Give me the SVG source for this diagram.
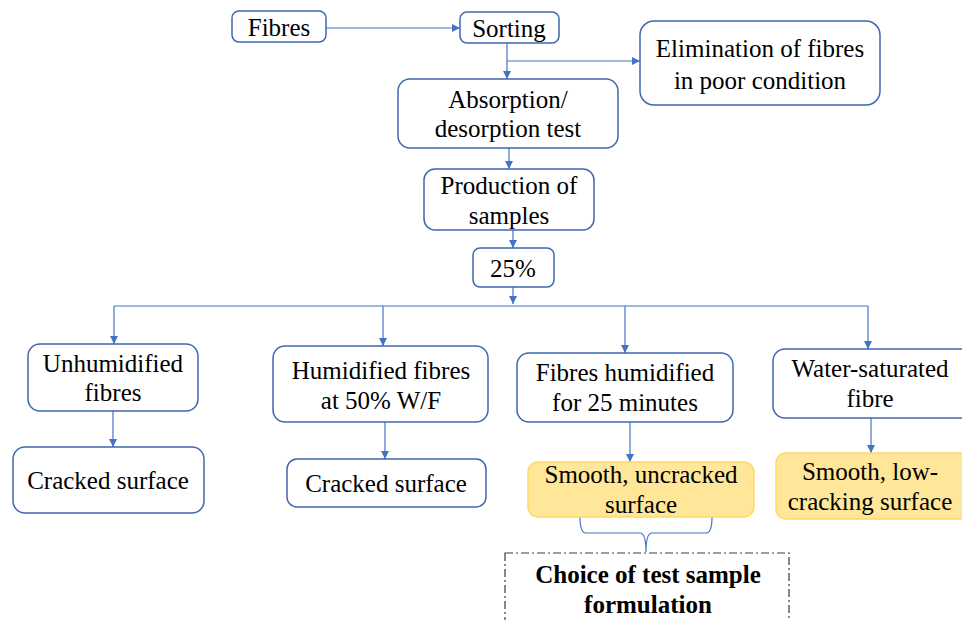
<svg xmlns="http://www.w3.org/2000/svg" width="962" height="620" viewBox="0 0 962 620">
  <style>
    .box { fill: #ffffff; stroke: #3f67b0; stroke-width: 1.5; }
    .hl { fill: #ffe699; stroke: #ffd966; stroke-width: 1.5; }
    text { font-size: 25px; fill: #000000; text-anchor: middle; }
    .bold { font-weight: bold; }
    .wire { fill: none; stroke: #4472c4; stroke-width: 1.2; }
    .dash { fill: none; stroke: #3a3a3a; stroke-width: 1.2; stroke-dasharray: 8 3 2 3; }
  </style>
  <defs>
    <marker id="arr" viewBox="0 0 10 10" refX="10" refY="5" markerWidth="8" markerHeight="8" markerUnits="userSpaceOnUse" orient="auto">
      <path d="M0,0 L10,5 L0,10 z" fill="#4472c4"/>
    </marker>
  </defs>

  <rect width="962" height="620" fill="#ffffff"/>

  <g id="connectors">
    <line class="wire" x1="326" y1="28" x2="460" y2="28" marker-end="url(#arr)"/>
    <line class="wire" x1="507" y1="43" x2="507" y2="79" marker-end="url(#arr)"/>
    <line class="wire" x1="507" y1="61" x2="640" y2="61" marker-end="url(#arr)"/>
    <line class="wire" x1="509" y1="148" x2="509" y2="169" marker-end="url(#arr)"/>
    <line class="wire" x1="513" y1="230" x2="513" y2="248" marker-end="url(#arr)"/>
    <line class="wire" x1="513" y1="287" x2="513" y2="304" marker-end="url(#arr)"/>
    <line class="wire" x1="114" y1="306" x2="868" y2="306"/>
    <line class="wire" x1="114" y1="306" x2="114" y2="344" marker-end="url(#arr)"/>
    <line class="wire" x1="383" y1="306" x2="383" y2="346" marker-end="url(#arr)"/>
    <line class="wire" x1="625" y1="306" x2="625" y2="353" marker-end="url(#arr)"/>
    <line class="wire" x1="868" y1="306" x2="868" y2="349" marker-end="url(#arr)"/>
    <line class="wire" x1="113" y1="411" x2="113" y2="447" marker-end="url(#arr)"/>
    <line class="wire" x1="385" y1="422" x2="385" y2="459" marker-end="url(#arr)"/>
    <line class="wire" x1="630" y1="422" x2="630" y2="462" marker-end="url(#arr)"/>
    <line class="wire" x1="871" y1="418" x2="871" y2="453" marker-end="url(#arr)"/>
    <!-- curly brace under the chosen result -->
    <path class="wire" d="M580,517 Q580,533 586,533 L640,533 Q646,533 646,552 Q646,533 652,533 L706,533 Q712,533 712,517"/>
  </g>

  <g font-family="'Liberation Serif', Tinos, 'Times New Roman', 'DejaVu Serif', serif">
  <g id="fibres">
    <rect class="box" x="232" y="11" width="94" height="31" rx="7"/>
    <text x="279" y="36">Fibres</text>
  </g>
  <g id="sorting">
    <rect class="box" x="460" y="12" width="99" height="31" rx="7"/>
    <text x="509" y="37">Sorting</text>
  </g>
  <g id="elimination">
    <rect class="box" x="640" y="21" width="240" height="84" rx="14"/>
    <text x="760" y="57">Elimination of fibres</text>
    <text x="760" y="89">in poor condition</text>
  </g>
  <g id="absorption">
    <rect class="box" x="398" y="79" width="220" height="69" rx="12"/>
    <text x="508" y="108">Absorption/</text>
    <text x="508" y="137">desorption test</text>
  </g>
  <g id="production">
    <rect class="box" x="424" y="169" width="170" height="61" rx="11"/>
    <text x="509" y="194">Production of</text>
    <text x="509" y="224">samples</text>
  </g>
  <g id="ratio">
    <rect class="box" x="473" y="248" width="81" height="39" rx="7"/>
    <text x="513" y="277">25%</text>
  </g>
  <g id="unhumidified">
    <rect class="box" x="28" y="344" width="170" height="67" rx="12"/>
    <text x="113" y="372">Unhumidified</text>
    <text x="113" y="401">fibres</text>
  </g>
  <g id="humidified50">
    <rect class="box" x="273" y="346" width="215" height="76" rx="12"/>
    <text x="381" y="379">Humidified fibres</text>
    <text x="381" y="409">at 50% W/F</text>
  </g>
  <g id="humidified25">
    <rect class="box" x="517" y="353" width="216" height="69" rx="12"/>
    <text x="625" y="381">Fibres humidified</text>
    <text x="625" y="411">for 25 minutes</text>
  </g>
  <g id="saturated">
    <rect class="box" x="773" y="349" width="200" height="69" rx="12"/>
    <text x="870" y="377">Water-saturated</text>
    <text x="870" y="407">fibre</text>
  </g>
  <g id="cracked1">
    <rect class="box" x="13" y="447" width="191" height="66" rx="12"/>
    <text x="108" y="489">Cracked surface</text>
  </g>
  <g id="cracked2">
    <rect class="box" x="287" y="459" width="199" height="48" rx="10"/>
    <text x="386" y="492">Cracked surface</text>
  </g>
  <g id="smooth-uncracked">
    <rect class="hl" x="528" y="462" width="226" height="55" rx="10"/>
    <text x="641" y="483">Smooth, uncracked</text>
    <text x="641" y="513">surface</text>
  </g>
  <g id="smooth-low">
    <rect class="hl" x="776" y="453" width="196" height="66" rx="10"/>
    <text x="870" y="480">Smooth, low-</text>
    <text x="870" y="510">cracking surface</text>
  </g>
  <g id="choice">
    <rect class="dash" x="505" y="553" width="284" height="80"/>
    <text class="bold" x="648" y="583">Choice of test sample</text>
    <text class="bold" x="648" y="613">formulation</text>
  </g>
  </g>
</svg>
